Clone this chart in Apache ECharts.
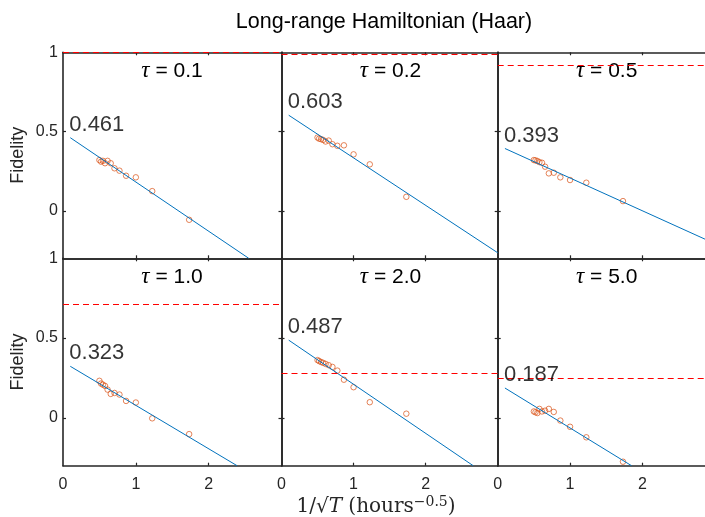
<!DOCTYPE html>
<html>
<head>
<meta charset="utf-8">
<script src="https://cdn.jsdelivr.net/npm/echarts@6/dist/echarts.min.js"></script>
<style>html,body{margin:0;padding:0;background:#fff;}#c{width:705px;height:517px;}</style>
</head>
<body>
<div id="c"></div>
<script>
// ---- data ----
const chartTitle = 'Long-range Hamiltonian (Haar)';
const tauLabels = ['0.1', '0.2', '0.5', '1.0', '2.0', '5.0'];
const invSqrtT = [0.5, 0.522, 0.548, 0.577, 0.612, 0.655, 0.707, 0.775, 0.866, 1.0, 1.225, 1.732];
const fidTau01 = [0.32, 0.31, 0.315, 0.30, 0.315, 0.30, 0.268, 0.253, 0.221, 0.211, 0.124, -0.057];
const fidTau02 = [0.462, 0.455, 0.452, 0.447, 0.437, 0.443, 0.42, 0.41, 0.413, 0.356, 0.293, 0.088];
const fidTau05 = [0.32, 0.318, 0.314, 0.307, 0.303, 0.278, 0.236, 0.24, 0.211, 0.194, 0.177, 0.061];
const fidTau10 = [0.232, 0.215, 0.208, 0.20, 0.177, 0.15, 0.156, 0.146, 0.106, 0.096, -0.003, -0.102];
const fidTau20 = [0.362, 0.356, 0.35, 0.345, 0.338, 0.33, 0.319, 0.296, 0.239, 0.192, 0.098, 0.026];
const fidTau50 = [0.04, 0.035, 0.03, 0.056, 0.04, 0.045, 0.056, 0.037, -0.017, -0.056, -0.122, -0.275];
const fitStartX = [0.1, 0.1, 0.1, 0.1, 0.1, 0.1];
const fitStartY = [0.461, 0.603, 0.393, 0.323, 0.487, 0.187];
const fitEndX = [2.55, 3.0, 3.0, 2.39, 2.66, 1.85];
const fitEndY = [-0.3, -0.265, -0.207, -0.3, -0.3, -0.3];
const refLevel = [1.0, 0.99, 0.924, 0.708, 0.281, 0.25];
const xTickLabels = [0, 1, 2];
const yTickLabels = [0, 0.5, 1];
const xLabelParts = ['1/', '√', 'T', ' (hours', '−0.5', ')'];
const yLabel = 'Fidelity';

const fids = [fidTau01, fidTau02, fidTau05, fidTau10, fidTau20, fidTau50];

// ---- layout ----
const colLeft = [63, 281.5, 497.7];
const colWidth = [218.5, 216.2, 217];
const rowTop = [52.3, 258.3];
const rowHeight = [206, 207.4];
const axisColor = '#262626';
const sans = 'Liberation Sans, Arial, Helvetica, sans-serif';
const serif = 'DejaVu Serif, Liberation Serif, serif';

const grids = [], xAxes = [], yAxes = [], series = [], graphics = [];
for (let i = 0; i < 6; i++) {
  const r = Math.floor(i / 3), c = i % 3;
  grids.push({left: colLeft[c], top: rowTop[r], width: colWidth[c], height: rowHeight[r], containLabel: false, outerBoundsMode: 'none'});
  const axLine = {show: true, onZero: false, lineStyle: {color: axisColor, width: 1.6}};
  const common = {type: 'value', gridIndex: i, splitLine: {show: false}, axisLine: axLine};
  xAxes.push(Object.assign({}, common, {
    position: 'bottom', min: 0, max: 3,
    axisTick: {show: true, inside: true, length: 3, customValues: [1, 2], lineStyle: {color: axisColor, width: 1.2}},
    axisLabel: {show: r === 1, customValues: xTickLabels, margin: 11, fontSize: 16, color: axisColor, fontFamily: sans}
  }));
  xAxes.push(Object.assign({}, common, {
    position: 'top', min: 0, max: 3,
    axisTick: {show: true, inside: true, length: 3, customValues: [1, 2], lineStyle: {color: axisColor, width: 1.2}},
    axisLabel: {show: false}
  }));
  yAxes.push(Object.assign({}, common, {
    position: 'left', min: -0.3, max: 1,
    axisTick: {show: true, inside: true, length: 3, customValues: [0, 0.5], lineStyle: {color: axisColor, width: 1.2}},
    axisLabel: {show: c === 0, customValues: yTickLabels, margin: 5, fontSize: 16, color: axisColor, fontFamily: sans},
    name: c === 0 ? yLabel : '', nameLocation: 'middle', nameGap: 36,
    nameTextStyle: {fontSize: 18, color: axisColor, fontFamily: sans}
  }));
  yAxes.push(Object.assign({}, common, {
    position: 'right', min: -0.3, max: 1,
    axisTick: {show: true, inside: true, length: 3, customValues: [0, 0.5], lineStyle: {color: axisColor, width: 1.2}},
    axisLabel: {show: false}
  }));

  series.push({
    type: 'scatter', xAxisIndex: 2 * i, yAxisIndex: 2 * i,
    data: invSqrtT.map((x, k) => [x, fids[i][k]]),
    symbol: 'circle', symbolSize: 5.5,
    itemStyle: {color: 'rgba(0,0,0,0)', borderColor: '#D95319', borderWidth: 0.9, opacity: 0.8},
    z: 3, silent: true
  });
  series.push({
    type: 'line', xAxisIndex: 2 * i, yAxisIndex: 2 * i,
    data: [[fitStartX[i], fitStartY[i]], [fitEndX[i], fitEndY[i]]],
    showSymbol: false, symbol: 'none',
    lineStyle: {color: '#0072BD', width: 1},
    z: 4, silent: true, clip: true,
    markLine: {
      symbol: 'none', silent: true, label: {show: false},
      lineStyle: {color: '#FF0000', type: [6, 4], width: 1, opacity: 1},
      emphasis: {disabled: true},
      data: [{yAxis: refLevel[i], lineStyle: {color: '#FF0000'}}]
    }
  });
  series.push({
    type: 'scatter', xAxisIndex: 2 * i, yAxisIndex: 2 * i,
    data: [[fitStartX[i], fitStartY[i]]],
    symbolSize: 0, silent: true, z: 6,
    label: {
      show: true, position: [0, 0], align: 'left', verticalAlign: 'bottom', offset: [-1, -2],
      formatter: p => p.value[1].toFixed(3),
      fontSize: 22, color: '#000000', textBorderWidth: 0, fontFamily: sans
    }
  });

  graphics.push({
    type: 'text', x: colLeft[c] + 218 / 2, y: rowTop[r] + 19,
    style: {
      text: '{t|τ} = ' + tauLabels[i], textAlign: 'center', textVerticalAlign: 'middle',
      font: '21px ' + sans, fill: '#000',
      rich: {t: {fontFamily: 'Liberation Serif, serif', fontStyle: 'italic', fontSize: 23, fill: '#000'}}
    }
  });
}

graphics.push({
  type: 'text', x: 384, y: 22,
  style: {text: chartTitle, textAlign: 'center', textVerticalAlign: 'middle', font: '21.5px ' + sans, fill: '#000'}
});
graphics.push({
  type: 'text', x: 376, y: 507,
  style: {
    text: '{n|' + xLabelParts[0] + '}{n|' + xLabelParts[1] + '}{i|' + xLabelParts[2] + '}{n|' + xLabelParts[3] + '}{s|' + xLabelParts[4] + '}{n|' + xLabelParts[5] + '}',
    textAlign: 'center', textVerticalAlign: 'middle',
    font: '20px ' + serif, fill: axisColor,
    rich: {
      n: {fontFamily: serif, fontSize: 20, fill: axisColor},
      i: {fontFamily: serif, fontStyle: 'italic', fontSize: 20, fill: axisColor},
      s: {fontFamily: serif, fontSize: 14, fill: axisColor, verticalAlign: 'top', padding: [0, 0, 9, 0]}
    }
  }
});

const chart = echarts.init(document.getElementById('c'), null, {renderer: 'canvas'});
chart.setOption({
  animation: false,
  backgroundColor: '#fff',
  grid: grids,
  xAxis: xAxes,
  yAxis: yAxes,
  series: series,
  graphic: graphics
});
</script>
</body>
</html>
